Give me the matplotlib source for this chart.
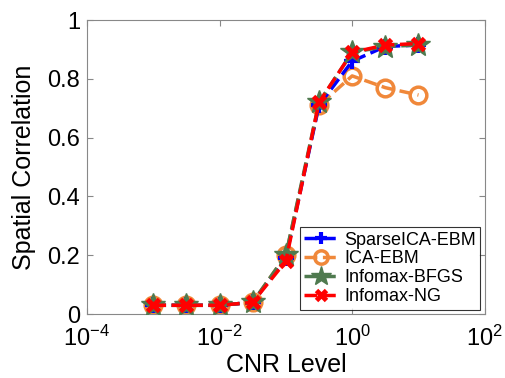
import matplotlib
matplotlib.use("Agg")
import matplotlib.pyplot as plt

cnr = [1e-3, 10**-2.5, 1e-2, 10**-1.5, 1e-1, 10**-0.5, 1, 10**0.5, 10]
sparse_ica = [0.03, 0.03, 0.03, 0.04, 0.19, 0.71, 0.86, 0.91, 0.915]
ica_ebm = [0.03, 0.03, 0.03, 0.04, 0.20, 0.71, 0.81, 0.77, 0.745]
infomax_bfgs = [0.03, 0.03, 0.03, 0.04, 0.20, 0.72, 0.89, 0.91, 0.915]
infomax_ng = [0.03, 0.03, 0.03, 0.04, 0.18, 0.72, 0.89, 0.915, 0.92]

plt.rcParams['font.family'] = ['Liberation Sans', 'DejaVu Sans']
plt.rcParams['mathtext.fontset'] = 'custom'
plt.rcParams['mathtext.rm'] = 'Liberation Sans'
plt.rcParams['mathtext.it'] = 'Liberation Sans'

fig = plt.figure(figsize=(5.05, 3.78), dpi=100)
ax = fig.add_axes([0.172, 0.169, 0.788, 0.778])

lw = 2.5
ax.plot(cnr, sparse_ica, '--', color='#0000ff', lw=lw, marker='+', ms=11,
        mew=3, mec='#0000ff', label='SparseICA-EBM', zorder=3)
ax.plot(cnr, ica_ebm, '--', color='#f0883a', lw=lw, marker='o', ms=12,
        mfc='none', mec='#f0883a', mew=2.5, label='ICA-EBM', zorder=2)
ax.plot(cnr, infomax_bfgs, '--', color='#4f7a4f', lw=lw, marker='*', ms=18,
        mfc='#4f7a4f', mec='#4f7a4f', label='Infomax-BFGS', zorder=4)
ax.plot(cnr, infomax_ng, '--', color='#ff0000', lw=lw, marker='x', ms=9,
        mew=3.5, mec='#ff0000', label='Infomax-NG', zorder=5)

ax.set_xscale('log')
ax.set_xlim(1e-4, 1e2)
ax.set_ylim(0, 1)
ax.set_xticks([1e-4, 1e-2, 1, 1e2])
ax.set_xticks([], minor=True)
ax.set_yticks([0, 0.2, 0.4, 0.6, 0.8, 1.0])
ax.set_yticklabels(['0', '0.2', '0.4', '0.6', '0.8', '1'])
ax.tick_params(labelsize=17, direction='in', length=4, color='#888888',
               top=True, right=True)
ax.tick_params(axis='x', pad=8)
ax.tick_params(axis='y', pad=5)
for s in ax.spines.values():
    s.set_color('#888888')
ax.set_xlabel('CNR Level', fontsize=18, labelpad=2)
ax.set_ylabel('Spatial Correlation', fontsize=18, labelpad=8)

leg = ax.legend(loc='lower right', fontsize=13, frameon=True, fancybox=False,
                edgecolor='black', borderpad=0.25, labelspacing=0.1,
                handlelength=1.9, handletextpad=0.3, borderaxespad=0.25,
                markerscale=0.8)
leg.get_frame().set_linewidth(0.8)

fig.savefig('out.png', dpi=100)
